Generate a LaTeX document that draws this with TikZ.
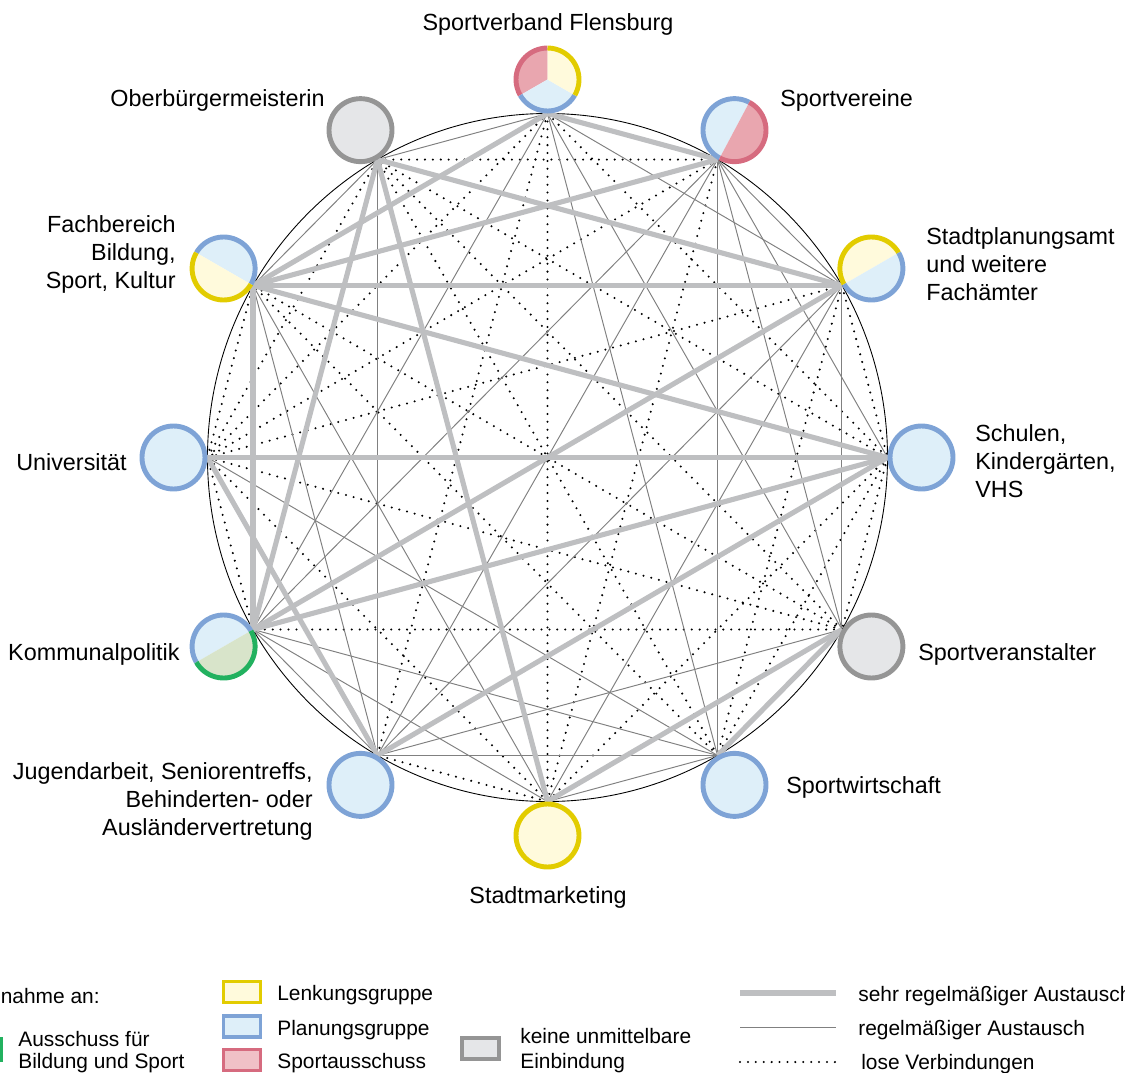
\documentclass[tikz,border=0pt]{standalone}
\usepackage{fontspec}
\setmainfont{Liberation Sans}
\definecolor{lenkrand}{HTML}{E2CC00}
\definecolor{lenkfill}{HTML}{FFFADC}
\definecolor{planrand}{HTML}{7EA3D6}
\definecolor{planfill}{HTML}{DEEFF9}
\definecolor{sportrand}{HTML}{D66B7F}
\definecolor{sportfill}{HTML}{E9A6AF}
\definecolor{ausrand}{HTML}{22B15F}
\definecolor{ausfill}{HTML}{D8E4CA}
\definecolor{keinrand}{HTML}{959595}
\definecolor{keinfill}{HTML}{E5E6E8}
\definecolor{liniengrau}{HTML}{BEBFC1}
\tikzset{
  sehr/.style={draw=liniengrau, line width=2.9pt},
  regel/.style={draw=black!50, line width=0.55pt},
  lose/.style={draw=black, line width=1.3pt, line cap=round, dash pattern=on 0pt off 4.5pt},
  kreis/.style={circle, minimum size=35.7pt, inner sep=0pt, line width=2.8pt},
  beschr/.style={font=\fontsize{13.3}{16}\selectfont, inner sep=0pt},
  legtext/.style={font=\fontsize{11.9}{14.2}\selectfont, inner sep=0pt},
  legbox/.style={line width=2pt, minimum width=21pt, minimum height=12pt, inner sep=0pt},
}
% Kreissegment: Knoten, Startwinkel, Endwinkel, Fuellung, Rand
\newcommand{\segment}[5]{%
  \fill[#4] (#1.center) -- ++(#2:31.5) arc[start angle=#2, end angle=#3, radius=31.5] -- cycle;
  \draw[#5, line width=2.8pt] (#1.center) ++(#2:31.5) arc[start angle=#2, end angle=#3, radius=31.5];
}
\begin{document}
\begin{tikzpicture}[x=0.02cm, y=0.02cm]
\useasboundingbox (-547.5,-614.5) rectangle (577.5,457.5);
% Anschlusspunkte auf dem Kreis
\foreach \i in {0,...,11}
  \coordinate (h\i) at ({340*cos(90-30*\i)},{344*sin(90-30*\i)});
\draw[line width=0.5pt] (0,0) ellipse [x radius=340, y radius=344];
% lose Verbindungen
\foreach \a/\b in {0/3,0/6,0/7,0/9,1/6,1/9,1/11,2/3,2/5,2/9,3/4,3/5,3/6,3/11,4/8,4/9,4/10,4/11,
                   5/10,5/11,6/7,6/9,8/9,9/10,9/11}
  \draw[lose] (h\a) -- (h\b);
% regelmaessiger Austausch
\foreach \a/\b in {0/2,0/4,0/5,0/8,0/11,1/2,1/3,1/4,1/5,1/7,1/8,2/4,2/6,2/7,4/7,5/6,5/7,5/8,
                   5/9,6/8,6/10,7/8,7/10,7/11,10/11}
  \draw[regel] (h\a) -- (h\b);
% sehr regelmaessiger Austausch
\foreach \a/\b in {0/1,0/10,10/1,10/2,10/3,10/8,11/2,11/8,11/6,9/3,9/7,8/2,8/3,7/3,6/4,5/4}
  \draw[sehr] (h\a) -- (h\b);

% Beteiligte
\foreach \i/\n in {0/sv,1/vereine,2/planung,3/schulen,4/veranst,5/wirtsch,6/marketing,7/jugend,8/politik,9/uni,10/fachb,11/ob}
  \node[kreis] (\n) at ({374*cos(90-30*\i)},{378*sin(90-30*\i)}) {};
\segment{sv}{90}{210}{sportfill}{sportrand}
\segment{sv}{210}{330}{planfill}{planrand}
\segment{sv}{330}{450}{lenkfill}{lenkrand}
\segment{vereine}{62}{242}{planfill}{planrand}
\segment{vereine}{242}{422}{sportfill}{sportrand}
\segment{planung}{30}{210}{lenkfill}{lenkrand}
\segment{planung}{210}{390}{planfill}{planrand}
\segment{fachb}{-30}{150}{planfill}{planrand}
\segment{fachb}{150}{330}{lenkfill}{lenkrand}
\segment{politik}{30}{210}{planfill}{planrand}
\segment{politik}{210}{390}{ausfill}{ausrand}
\foreach \n in {schulen,wirtsch,jugend,uni}
  \draw[planrand, fill=planfill, line width=2.8pt] (\n.center) circle [radius=31.5];
\foreach \n in {veranst,ob}
  \draw[keinrand, fill=keinfill, line width=2.8pt] (\n.center) circle [radius=31.5];
\draw[lenkrand, fill=lenkfill, line width=2.8pt] (marketing.center) circle [radius=31.5];

% Beschriftungen
\node[beschr, anchor=base] (tsv) at (0.5,426.5) {Sportverband Flensburg};
\node[beschr, anchor=base east] (tob) at (-222.5,351) {Oberbürgermeisterin};
\node[beschr, anchor=base west] (tvereine) at (232.5,351) {Sportvereine};
\node[beschr, anchor=north east, align=right] (tfachb) at (-371.5,242.5) {Fachbereich\\Bildung,\\Sport, Kultur};
\node[beschr, anchor=north west, align=left] (tplanung) at (378.5,230.5) {Stadtplanungsamt\\und weitere\\Fachämter};
\node[beschr, anchor=base east] (tuni) at (-420.5,-12.5) {Universität};
\node[beschr, anchor=north west, align=left] (tschulen) at (427.5,33.5) {Schulen,\\Kindergärten,\\VHS};
\node[beschr, anchor=base east] (tpolitik) at (-367.5,-203) {Kommunalpolitik};
\node[beschr, anchor=base west] (tveranst) at (370.5,-203) {Sportveranstalter};
\node[beschr, anchor=north east, align=right] (tjugend) at (-234.5,-304.5) {Jugendarbeit, Seniorentreffs,\\Behinderten- oder\\Ausländervertretung};
\node[beschr, anchor=base west] (twirtsch) at (238.5,-336) {Sportwirtschaft};
\node[beschr, anchor=base] (tmarketing) at (0.5,-446) {Stadtmarketing};

% Legende
\node[legtext, anchor=base east] (lteil) at (-447.5,-545.5) {Teilnahme an:};
\node[legbox, draw=ausrand, fill=ausfill] (laus) at (-564.5,-592) {};
\node[legtext, anchor=base west] (ltaus) at (-529.5,-588.5) {Ausschuss für};
\node[legtext, anchor=base west] (ltaus2) at (-529.5,-611) {Bildung und Sport};
\node[legbox, draw=lenkrand, fill=lenkfill] (llenk) at (-305.5,-534.5) {};
\node[legbox, draw=planrand, fill=planfill] (lplan) at (-305.5,-569) {};
\node[legbox, draw=sportrand, fill=sportfill!70] (lsport) at (-305.5,-602.5) {};
\node[legtext, anchor=base west] (ltlenk) at (-270.5,-542.5) {Lenkungsgruppe};
\node[legtext, anchor=base west] (ltplan) at (-270.5,-577.5) {Planungsgruppe};
\node[legtext, anchor=base west] (ltsport) at (-270.5,-610.5) {Sportausschuss};
\node[legbox, draw=keinrand, fill=keinfill] (lkein) at (-67,-591) {};
\node[legtext, anchor=base west] (ltkein) at (-27.5,-585.5) {keine unmittelbare};
\node[legtext, anchor=base west] (ltkein2) at (-27.5,-610.5) {Einbindung};
\coordinate (ls1) at (192.5,-535.5); \coordinate (le1) at (288.5,-535.5);
\coordinate (ls2) at (192.5,-569.5); \coordinate (le2) at (288.5,-569.5);
\coordinate (ls3) at (192.5,-604.5); \coordinate (le3) at (288.5,-604.5);
\draw[sehr] (ls1) -- (le1);
\draw[regel] (ls2) -- (le2);
\draw[lose] (ls3) -- (le3);
\node[legtext, anchor=base west] (ltsehr) at (310.5,-543.5) {sehr regelmäßiger Austausch};
\node[legtext, anchor=base west] (ltregel) at (310.5,-577.5) {regelmäßiger Austausch};
\node[legtext, anchor=base west] (ltlose) at (313.5,-611.5) {lose Verbindungen};
\end{tikzpicture}
\end{document}
